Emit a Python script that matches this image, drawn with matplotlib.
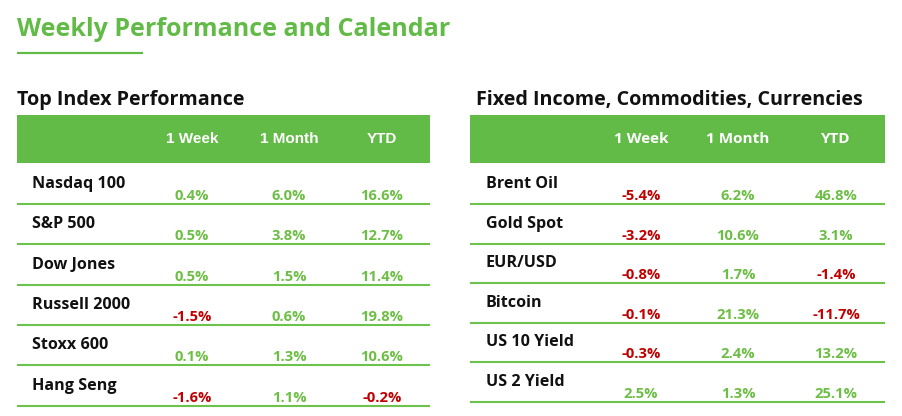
import matplotlib.pyplot as plt
from matplotlib.patches import Rectangle

# data
columns = ['1 Week', '1 Month', 'YTD']

index_names = ['Nasdaq 100', 'S&P 500', 'Dow Jones', 'Russell 2000', 'Stoxx 600', 'Hang Seng']
index_week = [0.4, 0.5, 0.5, -1.5, 0.1, -1.6]
index_month = [6.0, 3.8, 1.5, 0.6, 1.3, 1.1]
index_ytd = [16.6, 12.7, 11.4, 19.8, 10.6, -0.2]

ficc_names = ['Brent Oil', 'Gold Spot', 'EUR/USD', 'Bitcoin', 'US 10 Yield', 'US 2 Yield']
ficc_week = [-5.4, -3.2, -0.8, -0.1, -0.3, 2.5]
ficc_month = [6.2, 10.6, 1.7, 21.3, 2.4, 1.3]
ficc_ytd = [46.8, 3.1, -1.4, -11.7, 13.2, 25.1]

GREEN = '#62BB46'
LINE_GREEN = '#6CC24A'
VAL_GREEN = '#6DBE45'
RED = '#C00000'

fig = plt.figure(figsize=(9.03, 4.16), dpi=100)
ax = fig.add_axes([0, 0, 1, 1])
ax.set_xlim(0, 903)
ax.set_ylim(416, 0)
ax.axis('off')

ax.text(17, 29, 'Weekly Performance and Calendar', color=GREEN, fontsize=18,
        fontweight='bold', family='Open Sans', va='center', ha='left')
ax.plot([17, 143], [53, 53], color=GREEN, lw=1.6, solid_capstyle='butt')


def draw_table(x0, x1, title, title_x, names, week, month, ytd, col_x, name_x,
               first_line, row_step, head_font):
    ax.text(title_x, 100, title, fontsize=14.2, fontweight='bold', family='Open Sans',
            color='#111111', va='center', ha='left')
    ax.add_patch(Rectangle((x0, 115), x1 - x0, 48, color=GREEN, lw=0))
    for cx, col in zip(col_x, columns):
        ax.text(cx, 139, col, color='white', fontsize=11, fontweight='bold',
                family=head_font, va='center', ha='center')
    for i, name in enumerate(names):
        line_y = first_line + i * row_step
        ax.plot([x0, x1], [line_y, line_y], color=LINE_GREEN, lw=1.5,
                solid_capstyle='butt')
        ax.text(name_x, line_y - 20, name, fontsize=11.6, fontweight='bold',
                family='Open Sans', color='#111111', va='center', ha='left')
        for cx, v in zip(col_x, [week[i], month[i], ytd[i]]):
            ax.text(cx, line_y - 8, '%.1f%%' % v, fontsize=10.6,
                    fontweight='bold', family='Open Sans',
                    color=RED if v < 0 else VAL_GREEN, va='center', ha='center')


draw_table(17, 430, 'Top Index Performance', 17, index_names, index_week,
           index_month, index_ytd, [192, 289, 382], 32, 204, 40.3,
           'Liberation Sans')
draw_table(470, 885, 'Fixed Income, Commodities, Currencies', 476, ficc_names,
           ficc_week, ficc_month, ficc_ytd, [641, 738, 836], 486, 204, 39.6,
           'Open Sans')

fig.savefig('out.png', dpi=100)
